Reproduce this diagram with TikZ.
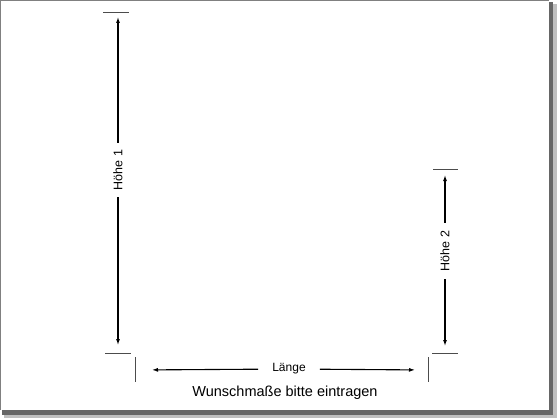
\documentclass[tikz,border=0pt]{standalone}
\usepackage{fontspec}
\setmainfont{Liberation Sans}
\usetikzlibrary{arrows.meta}
\begin{document}
\begin{tikzpicture}[x=1pt,y=-1pt,
  tick/.style={draw=black!70,line width=0.8pt},
  arr/.style={draw=black,line width=1.1pt,-{Latex[length=6pt,width=4pt]}},
  lbl/.style={inner ysep=0pt,font=\fontsize{12.5}{14}\selectfont}]
\useasboundingbox (0,0) rectangle (560,420);
\fill[white] (0,0) rectangle (560,420);
% frame and shadow
\fill[black!25] (552,4) rectangle (557,417);
\fill[black!25] (4,414) rectangle (557,418);
\fill[black!60] (549,2) rectangle (553,414);
\fill[black!60] (2,410) rectangle (553,415);
\draw[black!50,line width=1pt] (0.5,410) -- (0.5,0.5) -- (549,0.5);
% ticks
\coordinate (h1t) at (118,12);
\coordinate (h1b) at (118,353);
\coordinate (h2t) at (445,169);
\coordinate (h2b) at (445,353);
\coordinate (ll) at (135,370);
\coordinate (lr) at (428,370);
\draw[tick] (103,12) -- (129,12);
\draw[tick] (105,353) -- (131,353);
\draw[tick] (433,169) -- (458,169);
\draw[tick] (432,353) -- (458,353);
\draw[tick] (135,357) -- (135,382);
\draw[tick] (428,357) -- (428,382);
% labels
\node[lbl,rotate=90,inner xsep=7pt] (t1) at (118,170) {Höhe 1};
\node[lbl,rotate=90,inner xsep=8pt] (t2) at (445,251) {Höhe 2};
\node[lbl,inner xsep=14pt,font=\fontsize{12}{14}\selectfont] (t3) at (289,369) {Länge};
% dimension arrows
\draw[arr,shorten >=5pt] (t1) -- (h1t);
\draw[arr,shorten >=8pt] (t1) -- (h1b);
\draw[arr,shorten >=6pt] (t2) -- (h2t);
\draw[arr,shorten >=7pt] (t2) -- (h2b);
\draw[arr,shorten >=17pt] (t3) -- (ll);
\draw[arr,shorten >=13pt] (t3) -- (lr);
\node[font=\fontsize{14.5}{17}\selectfont] (w) at (285,393) {Wunschmaße bitte eintragen};
\end{tikzpicture}
\end{document}
